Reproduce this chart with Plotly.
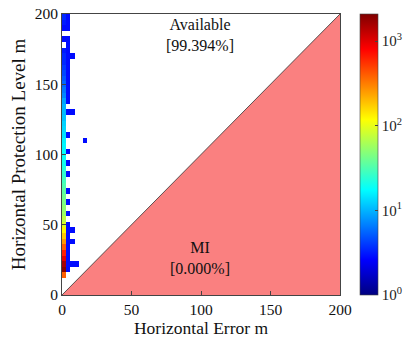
import plotly.graph_objects as go

# ---- data -------------------------------------------------------------
x_centers = [1.5, 4.5, 7.5, 10.5, 13.5, 16.5]
y_centers = [14, 18, 22, 26, 30, 34, 38, 42, 46, 50, 54, 58, 62, 66, 70, 74,
             78, 82, 86, 90, 94, 98, 102, 106, 110, 114, 118, 122, 126, 130,
             134, 138, 142, 146, 150, 154, 158, 162, 166, 170, 174, 178, 182,
             186, 190, 194, 198]

# log10(count) of the first column (x 0-3 m)
col0_log = [2.6, 3.3, 3.2, 3.0, 2.8, 2.6, 2.4, 2.25, 2.1, 1.95, 1.85, 1.75,
            1.7, 1.65, 1.6, 1.55, 1.5, 1.45, 1.4, 1.35, 1.3, 1.27, 1.25, 1.22,
            1.2, 1.15, 1.12, 1.1, 1.05, 1.02, 1.0, 0.95, 0.85, 0.8, 0.75, 0.7,
            0.65, 0.6, 0.55, 0.55, 0.5, None, 0.45, None, 0.45, 0.5, 0.55]

# sparse low-count cells (y centres) for the other columns
col1_y = [18, 22, 26, 30, 34, 38, 42, 46, 50, 58, 66, 74, 86, 94, 102, 114,
          130, 138, 142, 146, 150, 154, 158, 162, 166, 170, 174, 178, 182,
          190, 194, 198]
col2_y = [22, 38, 46, 130, 170]
col3_y = [22]
col5_y = [110]
sparse_level = 0.45

available_pct = "99.394%"
mi_pct = "0.000%"

# ---- build matrix -----------------------------------------------------
z = [[None] * len(x_centers) for _ in y_centers]
for i, v in enumerate(col0_log):
    z[i][0] = v
for col, ys in ((1, col1_y), (2, col2_y), (3, col3_y), (5, col5_y)):
    for yv in ys:
        z[y_centers.index(yv)][col] = sparse_level

jet = [[0.0, "rgb(0,0,128)"], [0.125, "rgb(0,0,255)"],
       [0.375, "rgb(0,255,255)"], [0.625, "rgb(255,255,0)"],
       [0.875, "rgb(255,0,0)"], [1.0, "rgb(128,0,0)"]]

font_family = "Liberation Serif"

fig = go.Figure()

# MI region (error > protection level)
fig.add_trace(go.Scatter(x=[0, 200, 200, 0], y=[0, 0, 200, 0], fill="toself",
                         fillcolor="rgb(250,128,128)", mode="lines",
                         line=dict(width=0), hoverinfo="skip",
                         showlegend=False))

fig.add_trace(go.Heatmap(
    x=x_centers, y=y_centers, z=z, colorscale=jet, zmin=0, zmax=3.32,
    showscale=True, hoverongaps=False,
    colorbar=dict(
        x=1.072, xanchor="left", xpad=0, y=0.5, yanchor="middle", ypad=0,
        len=1.0, lenmode="fraction", thickness=18, outlinewidth=0.6,
        outlinecolor="#444", tickvals=[0, 1, 2, 3],
        ticktext=["10<sup>0</sup>", "10<sup>1</sup>", "10<sup>2</sup>",
                  "10<sup>3</sup>"],
        ticks="inside", ticklen=3, tickcolor="#444",
        tickfont=dict(family=font_family, size=15, color="#222"),
    ),
))

fig.add_trace(go.Scatter(x=[0, 200], y=[0, 200], mode="lines",
                         line=dict(color="#333", width=0.8),
                         hoverinfo="skip", showlegend=False))

fig.add_annotation(x=99, y=185, xref="x", yref="y",
                   text="Available<br>[" + available_pct + "]",
                   showarrow=False,
                   font=dict(family=font_family, size=16, color="#111"))
fig.add_annotation(x=99, y=26, xref="x", yref="y",
                   text="MI<br>[" + mi_pct + "]", showarrow=False,
                   font=dict(family=font_family, size=16, color="#111"))

axis_common = dict(range=[0, 200], tickvals=[0, 50, 100, 150, 200],
                   showgrid=False, zeroline=False, showline=True,
                   linecolor="#444", linewidth=1, mirror=True,
                   ticks="inside", ticklen=4, tickcolor="#444",
                   automargin=False,
                   tickfont=dict(family=font_family, size=15.5, color="#111"))

fig.update_layout(
    width=405, height=345,
    margin=dict(l=62, r=65, t=14, b=50, autoexpand=False),
    paper_bgcolor="white", plot_bgcolor="white",
    xaxis=dict(**axis_common,
               title=dict(text="Horizontal Error m", standoff=4,
                          font=dict(family=font_family, size=17.5,
                                    color="#111"))),
    yaxis=dict(**axis_common,
               title=dict(text="Horizontal Protection Level m", standoff=4,
                          font=dict(family=font_family, size=19,
                                    color="#111"))),
    showlegend=False,
)

# remove the default page margin so the figure sits at the window's corner
fig.write_html("out.html", config={"displayModeBar": False},
               post_script="document.body.style.margin='0';"
                           "document.body.style.overflow='hidden';")
